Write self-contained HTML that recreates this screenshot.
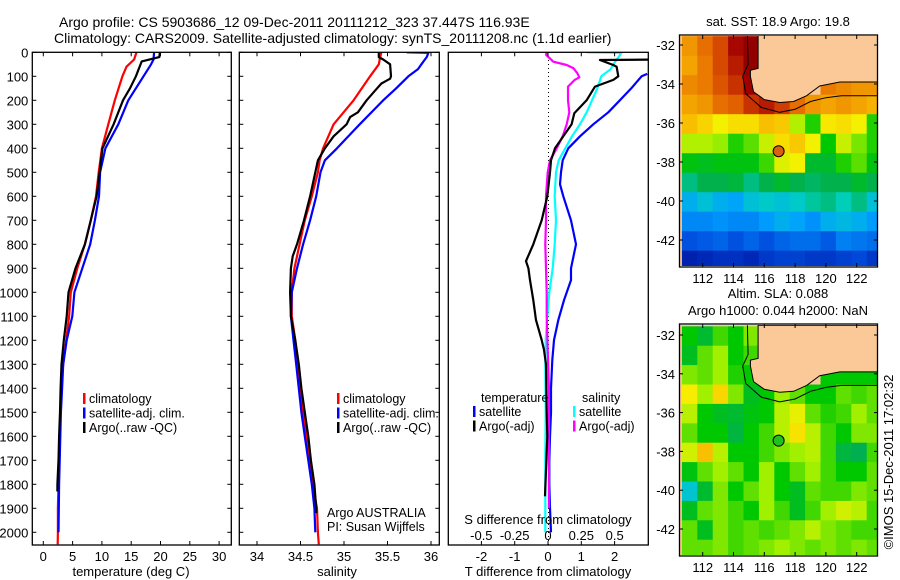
<!DOCTYPE html>
<html><head><meta charset="utf-8">
<style>
html,body{margin:0;padding:0;background:#fff;}
svg{display:block;font-family:"Liberation Sans",Arial,sans-serif;}
</style></head>
<body>
<svg id="fig" width="900" height="580" viewBox="0 0 900 580" xmlns="http://www.w3.org/2000/svg">
<defs>
<clipPath id="c1"><rect x="32" y="52" width="199" height="493"/></clipPath>
<clipPath id="c2"><rect x="239" y="52" width="200" height="493"/></clipPath>
<clipPath id="c3"><rect x="448" y="52" width="200" height="493"/></clipPath>
<clipPath id="m1"><rect x="680" y="36" width="197" height="230"/></clipPath>
<clipPath id="m2"><rect x="680" y="325" width="197" height="230"/></clipPath>
</defs>
<text x="59" y="27" font-size="14">Argo profile: CS 5903686_12 09-Dec-2011 20111212_323 37.447S 116.93E</text>
<text x="54" y="43" font-size="14">Climatology: CARS2009. Satellite-adjusted climatology: synTS_20111208.nc (1.1d earlier)</text>
<g id="g1"></g>
<g id="g2"></g>
<g id="g3"></g>
<g id="gm1"></g>
<g id="gm2"></g>
<text x="0" y="0" font-size="13" transform="translate(893,462) rotate(-90)" text-anchor="middle">©IMOS 15-Dec-2011 17:02:32</text>
</svg>
<script>
// ---------- data ----------
const depthsT = [0,30,60,100,200,300,400,500,600,700,800,900,1000,1100,1200,1300,1400,1500,1600,1700,1800,1900,2000,2050];
const tempClim = [15.9,15.5,14.2,13.5,12.2,11.1,10.0,9.45,9.0,8.1,7.1,5.8,4.7,4.4,3.9,3.4,3.0,2.95,2.85,2.7,2.6,2.5,2.5,2.45];
const depthsTSat = [0,30,50,100,200,300,400,500,600,700,800,900,1000,1100,1200,1300,1400,1500,1600,1800,2000];
const tempSat = [18.9,18.8,18.4,17.1,14.5,12.8,10.6,9.7,9.5,8.8,8.0,6.65,5.3,4.95,4.0,3.4,3.2,3.0,2.9,2.7,2.6];
const depthsArgo = [0,20,38,100,150,200,300,400,500,600,700,800,900,1000,1100,1200,1300,1400,1500,1600,1700,1800,1830];
const tempArgo = [19.9,19.8,16.8,15.8,14.8,13.6,12.0,10.1,9.6,9.1,8.1,7.1,5.5,4.3,4.0,3.5,3.1,2.95,2.85,2.7,2.6,2.4,2.4];

const depthsS = [0,30,50,100,200,300,400,450,500,600,700,800,900,1000,1100,1200,1300,1400,1500,1600,1700,1800,1900,2000,2050];
const salClim = [35.43,35.41,35.4,35.30,35.11,34.88,34.76,34.72,34.70,34.63,34.55,34.49,34.43,34.40,34.40,34.44,34.47,34.50,34.53,34.57,34.61,34.64,34.69,34.70,34.71];
const depthsSSat = [0,2,20,30,50,70,100,150,200,300,400,450,500,600,700,800,900,1000,1100,1200,1300,1400,1500,1600,1700,1800,1900,2000];
const salSat = [35.72,35.97,35.95,35.93,35.89,35.85,35.74,35.60,35.45,35.18,34.92,34.78,34.73,34.68,34.61,34.53,34.46,34.40,34.39,34.42,34.45,34.48,34.51,34.55,34.59,34.63,34.66,34.67];
const depthsSArgo = [0,20,30,50,100,110,130,150,200,250,270,300,350,400,450,500,600,700,800,850,900,1000,1100,1200,1300,1400,1500,1600,1700,1800,1900,1920];
const salArgo = [35.40,35.40,35.45,35.53,35.54,35.53,35.43,35.38,35.26,35.16,35.07,35.03,34.88,34.78,34.70,34.67,34.61,34.54,34.46,34.41,34.39,34.38,34.39,34.44,34.48,34.51,34.55,34.59,34.62,34.66,34.68,34.68];

const dDepthT1 = [90,100,150,200,250,300,350,400,450,500,550,600,700,800,900,949,1033,1116,1199,1282,1400,1500,1600,1700,1800,1900,2000];
const dTempSat = [2.98,2.81,2.5,2.16,1.81,1.36,0.96,0.61,0.44,0.39,0.36,0.46,0.69,0.84,0.69,0.69,0.48,0.31,0.18,0.13,0.09,0.09,0.06,0.04,0.04,0.06,0.09];
const dDepthT2 = [0,30,32,53,60,100,115,143,200,254,300,350,400,450,500,600,700,800,870,900,949,1033,1116,1199,1240,1300,1500,1600,1850];
const dTempArgo = [3.5,3.5,1.56,1.96,2.06,2.11,1.96,1.41,1.16,0.79,0.71,0.46,0.21,0.09,0.06,-0.02,-0.19,-0.44,-0.66,-0.59,-0.54,-0.44,-0.36,-0.19,-0.12,-0.06,-0.04,-0.02,-0.09];
const dDepthS1 = [0,2,20,50,70,100,150,200,250,300,350,400,450,500,600,700,800,900,1000,1100,1200,1300,1500,1700,1900,2000];
const dSalSat = [0.29,0.55,0.53,0.49,0.47,0.40,0.37,0.33,0.29,0.24,0.18,0.13,0.08,0.06,0.05,0.06,0.05,0.035,0.01,-0.005,-0.017,-0.02,-0.017,-0.02,-0.02,-0.02];
const dDepthS2 = [0,10,39,53,66,87,104,115,143,200,250,300,350,400,450,500,600,700,800,900,1000,1100,1400,1600,1800,1900];
const dSalArgo = [-0.01,-0.015,0.04,0.14,0.19,0.22,0.235,0.2,0.15,0.15,0.16,0.14,0.11,0.065,0.015,-0.002,-0.015,-0.015,-0.02,-0.015,-0.01,-0.01,0.007,0.007,0.007,0.007];

const depthTicks = [0,100,200,300,400,500,600,700,800,900,1000,1100,1200,1300,1400,1500,1600,1700,1800,1900,2000];
const tempTicks = [0,5,10,15,20,25,30];
const salTicks = [34,34.5,35,35.5,36];
const salTickLabels = ["34","34.5","35","35.5","36"];
const dTTicks = [-2,-1,0,1,2];
const dSTicks = [-0.5,-0.25,0,0.25,0.5];
const dSTickLabels = ["-0.5","-0.25","0","0.25","0.5"];
const lonTicks = [112,114,116,118,120,122];
const latTicks = [-32,-34,-36,-38,-40,-42];
const argoLon = 116.93, argoLat = -37.447;

const sstGrid = [
[20.6,20.9,21.2,21.8,22.1,null,null,null,null,null,null,null,null],
[20.5,20.8,21.2,21.6,22.1,null,null,null,null,null,null,null,null],
[20.7,20.8,21.1,21.4,21.9,22.0,null,null,null,20.8,20.7,20.6,20.6],
[20.5,20.6,20.9,21.0,21.4,21.6,21.3,20.9,20.6,20.5,20.6,20.5,20.4],
[20.3,20.1,19.8,20.0,20.0,20.3,20.2,19.5,19.0,19.9,20.0,19.8,19.0],
[19.5,19.5,19.4,19.0,19.2,19.6,20.0,20.2,19.8,18.9,19.6,19.3,19.0],
[18.8,18.7,18.8,18.8,18.8,19.1,19.7,19.8,18.6,18.6,19.0,19.2,18.8],
[18.2,18.4,18.4,18.5,18.2,18.4,18.6,18.4,18.3,18.4,18.4,18.6,18.4],
[17.6,17.8,17.6,17.5,17.8,17.9,17.8,17.9,18.1,18.2,18.0,18.2,17.8],
[17.2,17.2,17.3,17.2,17.2,17.4,17.6,17.5,17.3,17.6,17.7,17.6,17.4],
[16.6,16.7,16.8,16.6,16.8,16.6,16.8,16.9,16.9,16.7,17.1,17.0,16.9],
[16.0,16.1,16.2,16.2,16.1,16.3,16.4,16.4,16.3,16.3,16.4,16.5,16.3]];
const slaGrid = [
[0.0,-0.03,0.02,0.0,0.04,null,null,null,null,null,null,null,null],
[-0.02,0.03,0.05,0.0,0.02,null,null,null,null,null,null,null,null],
[0.04,0.03,0.05,0.01,0.0,0.05,null,null,null,0.0,0.0,0.0,0.0],
[0.09,0.05,0.11,0.04,-0.02,0.0,0.05,0.03,0.0,0.0,0.03,0.02,0.03],
[0.06,0.0,-0.02,-0.03,-0.01,0.0,0.06,0.08,0.03,0.01,0.02,0.05,0.03],
[0.03,0.0,0.0,-0.04,0.0,0.02,0.06,0.1,0.06,0.02,0.0,0.04,0.04],
[0.07,0.13,0.06,0.0,0.0,0.02,0.04,0.05,0.06,0.02,-0.04,-0.05,0.02],
[-0.01,0.03,0.05,0.03,0.0,0.05,0.0,0.03,0.05,0.02,0.0,0.0,0.03],
[-0.1,-0.03,0.04,0.0,0.03,0.05,0.0,-0.02,0.03,0.02,0.02,0.04,0.03],
[-0.02,0.03,0.04,0.02,0.0,0.05,0.02,-0.02,0.02,0.05,0.07,0.06,0.02],
[0.03,-0.02,0.04,0.02,0.03,0.02,0.03,0.04,0.06,0.04,0.03,0.02,0.02],
[0.03,0.03,0.04,0.02,0.03,0.04,0.05,0.04,0.03,0.04,0.03,0.04,0.03]];
const coastLon = [115.6,115.6,115.1,115.1,115.3,116.0,117.0,117.9,118.75,119.6,120.9,123.4,123.4];
const coastLat = [-31.5,-33.2,-33.3,-33.6,-34.4,-34.8,-34.95,-34.9,-34.6,-34.1,-33.9,-33.9,-31.5];
const contLon = [114.9,114.95,114.6,114.8,115.8,117.0,118.0,119.0,120.0,121.0,123.4];
const contLat = [-31.5,-33.0,-33.6,-34.5,-35.2,-35.45,-35.3,-34.9,-34.7,-34.6,-34.6];

// ---------- helpers ----------
const NS = "http://www.w3.org/2000/svg";
function mk(parent, tag, attrs){ const e=document.createElementNS(NS,tag); for(const k in attrs) e.setAttribute(k,attrs[k]); parent.appendChild(e); return e; }
const Y0=52.3, YS=0.24;
function yD(d){ return Y0 + YS*d; }
function axisBox(g, x0, x1, y0, y1){
  const r = mk(g,'rect',{x:x0,y:y0,width:x1-x0,height:y1-y0,fill:'none',stroke:'#000','stroke-width':1.3});
  
  
}
function depthTicksDraw(g, x0, x1, labels){
  depthTicks.forEach(d=>{
    const y=yD(d);
    mk(g,'line',{x1:x0,y1:y,x2:x0+4,y2:y,stroke:'#000'});
    mk(g,'line',{x1:x1,y1:y,x2:x1-4,y2:y,stroke:'#000'});
    if(labels){
      const t=mk(g,'text',{x:x0-4,y:y+5,'font-size':13,'text-anchor':'end'});
      t.textContent=d;
      
      
    }
  });
}
function xTicksDraw(g, vals, labels, fx, yb, ytop, ly){
  vals.forEach((v,i)=>{
    const x=fx(v);
    mk(g,'line',{x1:x,y1:yb,x2:x,y2:yb-4,stroke:'#000'});
    if(ytop!==null) mk(g,'line',{x1:x,y1:ytop,x2:x,y2:ytop+4,stroke:'#000'});
    const t=mk(g,'text',{x:x,y:ly,'font-size':13,'text-anchor':'middle'});
    t.textContent=labels[i];
    
    
  });
}
function line(g, xs, ds, fx, color, clip, name){
  const pts = ds.map((d,i)=>fx(xs[i]).toFixed(1)+','+yD(d).toFixed(1)).join(' ');
  const p=mk(g,'polyline',{points:pts,fill:'none',stroke:color,'stroke-width':2.2,'clip-path':'url(#'+clip+')','stroke-linejoin':'round'});
  
  
}
function legend(g, x, y, items){
  items.forEach((it,i)=>{
    const yy=y+i*14.5;
    if(it.c) mk(g,'rect',{x:x,y:yy-10,width:2.5,height:11,fill:it.c});
    const t=mk(g,'text',{x:x+6,y:yy,'font-size':12.5});
    t.textContent=it.t;
    
    
  });
}
function label(g, x, y, txt, name, anchor, size){
  const t=mk(g,'text',{x:x,y:y,'font-size':size||13,'text-anchor':anchor||'middle'});
  t.textContent=txt;
  
  
}

// ---------- panel 1: temperature ----------
const g1=document.getElementById('g1');
const fT = v => 43.3 + 5.86*v;
line(g1,tempClim,depthsT,fT,'#ff0000','c1','climatology-temperature-line');
line(g1,tempSat,depthsTSat,fT,'#0000ff','c1','satellite-temperature-line');
line(g1,tempArgo,depthsArgo,fT,'#000000','c1','argo-temperature-line');
axisBox(g1,32.3,231.3,52.3,545);
depthTicksDraw(g1,32.3,231.3,true);
xTicksDraw(g1,tempTicks,tempTicks.map(String),fT,545,52.3,561);
label(g1,131,576,'temperature (deg C)','x-axis-title-temperature');
legend(g1,83,403,[{c:'#ff0000',t:'climatology'},{c:'#0000ff',t:'satellite-adj. clim.'},{c:'#000',t:'Argo(..raw -QC)'}]);

// ---------- panel 2: salinity ----------
const g2=document.getElementById('g2');
const fS = v => 257 + 87*(v-34);
line(g2,salClim,depthsS,fS,'#ff0000','c2','climatology-salinity-line');
line(g2,salSat,depthsSSat,fS,'#0000ff','c2','satellite-salinity-line');
line(g2,salArgo,depthsSArgo,fS,'#000000','c2','argo-salinity-line');
axisBox(g2,239.3,439.3,52.3,545);
depthTicksDraw(g2,239.3,439.3,false);
xTicksDraw(g2,salTicks,salTickLabels,fS,545,52.3,561);
label(g2,337,576,'salinity','x-axis-title-salinity');
legend(g2,337,403,[{c:'#ff0000',t:'climatology'},{c:'#0000ff',t:'satellite-adj. clim.'},{c:'#000',t:'Argo(..raw -QC)'}]);
label(g2,327,517,'Argo AUSTRALIA','argo-agency-label','start',12.5);
label(g2,327,531,'PI: Susan Wijffels','pi-label','start',12.5);

// ---------- panel 3: differences ----------
const g3=document.getElementById('g3');
const fdT = v => 548 + 33.3*v;
const fdS = v => 548 + 133.3*v;
mk(g3,'line',{x1:548.5,y1:52,x2:548.5,y2:545,stroke:'#000','stroke-dasharray':'1,3'});
line(g3,dTempSat,dDepthT1,fdT,'#0000ff','c3','satellite-temperature-difference');
line(g3,dSalSat,dDepthS1,fdS,'#00ffff','c3','satellite-salinity-difference');
line(g3,dSalArgo,dDepthS2,fdS,'#ff00ff','c3','argo-salinity-difference');
line(g3,dTempArgo,dDepthT2,fdT,'#000000','c3','argo-temperature-difference');
axisBox(g3,448.3,648.3,52.3,545);
xTicksDraw(g3,dTTicks,dTTicks.map(String),fdT,545,52.3,561);
dSTicks.forEach((v,i)=>label(g3,fdS(v),540,dSTickLabels[i],'s-diff-tick-label'));
label(g3,548,524,'S difference from climatology','s-diff-axis-title');
label(g3,548,576,'T difference from climatology','t-diff-axis-title');
label(g3,481,402,'temperature','legend-temperature-heading','start',12.5);
legend(g3,473,416,[{c:'#0000ff',t:'satellite'},{c:'#000',t:'Argo(-adj)'}]);
label(g3,582,402,'salinity','legend-salinity-heading','start',12.5);
legend(g3,573,416,[{c:'#00ffff',t:'satellite'},{c:'#ff00ff',t:'Argo(-adj)'}]);

// ---------- maps ----------
const stops=[[0,[0,0,140]],[0.15,[0,80,224]],[0.28,[0,160,255]],[0.36,[0,208,192]],[0.42,[0,176,80]],[0.5,[0,200,0]],[0.58,[160,240,0]],[0.64,[248,240,0]],[0.72,[248,184,0]],[0.8,[232,112,0]],[0.88,[200,48,0]],[0.95,[160,0,0]],[1,[140,0,0]]];
function cmap(t){
  t=Math.max(0,Math.min(1,t));
  for(let i=1;i<stops.length;i++){ if(t<=stops[i][0]){ const a=stops[i-1],b=stops[i]; const f=(t-a[0])/(b[0]-a[0]); const c=a[1].map((v,k)=>Math.round(v+(b[1][k]-v)*f)); return 'rgb('+c.join(',')+')'; } }
  return 'rgb(140,0,0)';
}
function drawMap(g, y0, y1, latTop, latScale, grid, tfun, clip, title1, title2, markerFill){
  const fx = lon => 702.7 + 15.4*(lon-112);
  const fy = lat => latTop + latScale*(-32-lat);
  const lon0=110.65, lat0=-31.55;
  mk(g,'rect',{x:680,y:y0,width:197,height:y1-y0,fill:'#fbc997'});
  const cg=mk(g,'g',{'clip-path':'url(#'+clip+')'});
  grid.forEach((row,r)=>row.forEach((v,c)=>{
    if(v===null) return;
    const x=fx(lon0+c), y=fy(lat0-r);
    const cell=mk(cg,'rect',{x:x.toFixed(1),y:y.toFixed(1),width:(15.4+0.6).toFixed(1),height:(latScale+0.6).toFixed(1),fill:cmap(tfun(v))});
    
    
  }));
  const land=mk(cg,'polygon',{points:coastLon.map((lo,i)=>fx(lo).toFixed(1)+','+fy(coastLat[i]).toFixed(1)).join(' '),fill:'#fbc997',stroke:'#000','stroke-width':1});
  
  
  mk(cg,'polyline',{points:contLon.map((lo,i)=>fx(lo).toFixed(1)+','+fy(contLat[i]).toFixed(1)).join(' '),fill:'none',stroke:'#000','stroke-width':1});
  const m=mk(g,'circle',{cx:fx(argoLon),cy:fy(argoLat),r:5.5,fill:markerFill,stroke:'#000','stroke-width':1});
  
  
  mk(g,'rect',{x:679.5,y:y0-1,width:198,height:y1-y0+2,fill:'none',stroke:'#000','stroke-width':1.3});
  lonTicks.forEach(lo=>{
    const x=fx(lo);
    mk(g,'line',{x1:x,y1:y1+1,x2:x,y2:y1-3,stroke:'#000'});
    mk(g,'line',{x1:x,y1:y0-1,x2:x,y2:y0+3,stroke:'#000'});
    label(g,x,y1+17,String(lo),'lon-tick-label');
  });
  latTicks.forEach(la=>{
    const y=fy(la);
    mk(g,'line',{x1:679.5,y1:y,x2:683,y2:y,stroke:'#000'});
    mk(g,'line',{x1:877.5,y1:y,x2:874,y2:y,stroke:'#000'});
    label(g,675,y+5,String(la),'lat-tick-label','end');
  });
  label(g,778,title2?y0-27:y0-10,title1,'map-title');
  if(title2) label(g,778,y0-10,title2,'map-subtitle');
}
drawMap(document.getElementById('gm1'),36,266,45,19.5,sstGrid,v=>(v-15.6)/6.6,'m1','sat. SST: 18.9 Argo: 19.8',null,'#d86010');
drawMap(document.getElementById('gm2'),325,555,335,19.4,slaGrid,v=>0.5+v*1.6,'m2','Altim. SLA: 0.088','Argo h1000: 0.044 h2000: NaN','#20c020');
</script>
</body></html>
